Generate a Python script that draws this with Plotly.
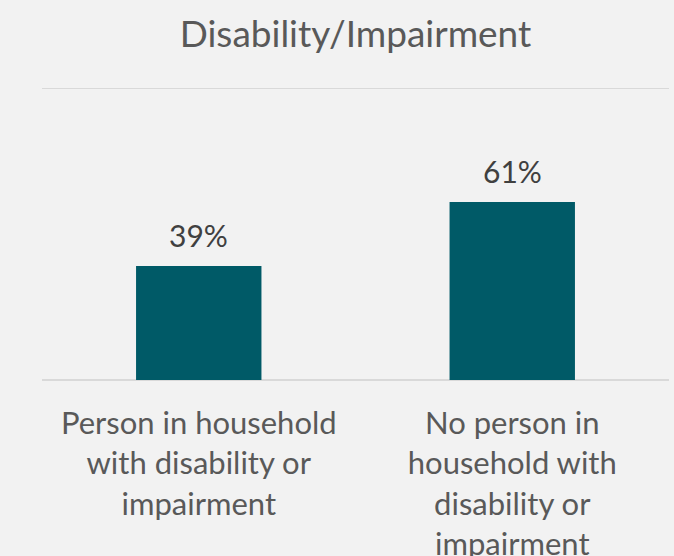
import plotly.graph_objects as go

categories = [
    "Person in household<br>with disability or<br>impairment",
    "No person in<br>household with<br>disability or<br>impairment",
]
shares = [39, 61]
value_labels = ["39%", "61%"]

BG = "#f2f2f2"
BAR = "#005a67"
TEXT = "#595959"
GRID = "#d9d9d9"
FONT = "Lato"

fig = go.Figure(
    go.Bar(
        x=categories,
        y=shares,
        width=0.4,
        marker=dict(color=BAR, line=dict(width=0)),
        hoverinfo="skip",
    )
)

for cat, val, lab in zip(categories, shares, value_labels):
    fig.add_annotation(
        x=cat, y=val, text=lab, showarrow=False,
        yanchor="bottom", yshift=11,
        font=dict(family=FONT, size=30, color="#404040"),
    )

# top gridline at 100%
fig.add_hline(y=100, line=dict(color=GRID, width=2), layer="below")

fig.update_layout(
    width=674, height=556,
    paper_bgcolor=BG, plot_bgcolor=BG,
    margin=dict(l=42, r=5, t=88, b=176),
    title=dict(
        text="Disability/Impairment",
        x=(42 + 669) / 2 / 674, xanchor="center",
        y=1 - 34 / 556, yanchor="middle",
        font=dict(family=FONT, size=37, color=TEXT),
    ),
    showlegend=False,
    bargap=0.6,
)
fig.update_xaxes(
    showgrid=False, showline=False, ticks="", automargin=False,
    tickfont=dict(family=FONT, size=31, color=TEXT),
    ticklabelstandoff=22,
)
fig.update_yaxes(
    range=[0, 100], tickvals=[0, 100], showticklabels=False,
    showgrid=True, gridcolor=GRID, gridwidth=2,
    zeroline=True, zerolinecolor=GRID, zerolinewidth=2,
    showline=False, automargin=False,
)

fig.write_html("out.html")
